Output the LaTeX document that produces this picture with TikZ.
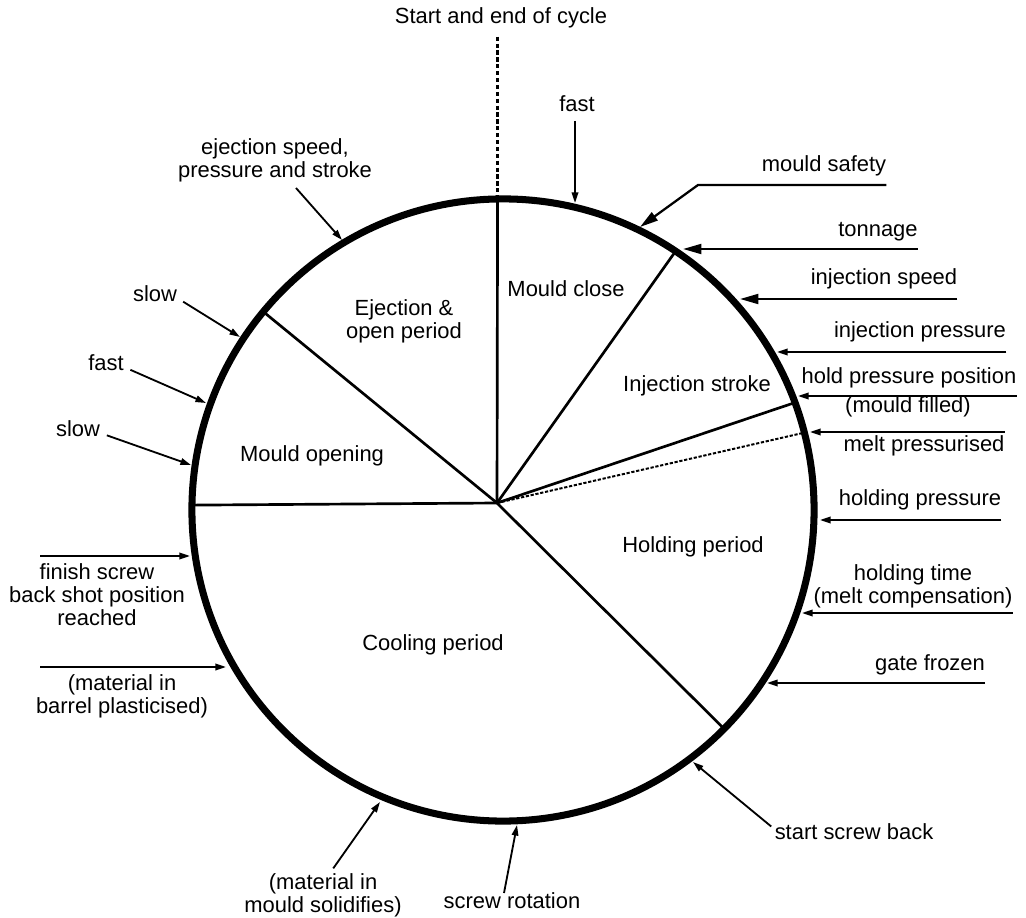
\documentclass[tikz,border=0pt]{standalone}
\usepackage{fontspec}
\setmainfont{Liberation Sans}
\usetikzlibrary{arrows.meta,positioning,calc}

\begin{document}
\begin{tikzpicture}[x=0.025cm,y=-0.025cm,font=\fontsize{15.6}{16.4}\selectfont,
  lab/.style={inner sep=0pt,align=center,text height=0.72em,text depth=0.21em},
  labm/.style={inner sep=0pt,align=center},
  arr/.style={line width=1.3pt,-{Triangle[length=7.5pt,width=4.6pt]}},
  bigarr/.style={line width=1.6pt,-{Triangle[length=13pt,width=7pt]}},
  spoke/.style={line width=1.9pt}]
\useasboundingbox (0,0) rectangle (1026,918);
% wheel
\coordinate (O) at (503,510);
\coordinate (hub) at (497,503);
\foreach \a in {-91,-56.3,-20.2,44.7,-179.1,-140.4}
  \draw[spoke] (hub) -- ($(O)+(\a:311)$);
\draw[line width=1.4pt,dash pattern=on 2.3pt off 1.2pt] (hub) -- ($(O)+(-14.4:311)$);
\draw[line width=5pt] (O) circle[radius=7.775cm];
\coordinate (cTop) at ($(O)+(-91:311)$);

% periods
\node[lab] (pClose) at (566,293) {Mould close};
\node[labm] (pEject) at (404,321) {Ejection \&\\open period};
\node[lab] (pInj) at (697,388) {Injection stroke};
\node[lab] (pOpen) at (312,458) {Mould opening};
\node[lab] (pHold) at (693,549) {Holding period};
\node[lab] (pCool) at (433,647) {Cooling period};

% points on the rim
\coordinate (tFastT) at (575,203);
\coordinate (tSafety) at (640,227);
\coordinate (tTon) at (683,249);
\coordinate (tSpeed) at (740,299);
\coordinate (tPress) at (777,352);
\coordinate (tHold) at (798,396);
\coordinate (tMelt) at (810,432);
\coordinate (tHoldP) at (820,520);
\coordinate (tHoldT) at (802,613);
\coordinate (tGate) at (767,683);
\coordinate (tBack) at (693,762);
\coordinate (tRot) at (517,825);
\coordinate (tSolid) at (380,802);
\coordinate (tBarrel) at (226,667);
\coordinate (tFinish) at (190,556);
\coordinate (tSlowB) at (191,465);
\coordinate (tFastL) at (206,403);
\coordinate (tSlowA) at (240,337);
\coordinate (tEject) at (342,240);

% labels
\node[lab] (lCycle) at (501,20) {Start and end of cycle};
\node[lab] (lFastT) at (577,108) {fast};
\node[lab] (lSafety) at (824,168) {mould safety};
\node[lab] (lTon) at (878,233) {tonnage};
\node[lab] (lSpeed) at (884,281) {injection speed};
\node[lab] (lPress) at (920,334) {injection pressure};
\node[lab] (lHold) at (909,380) {hold pressure position};
\node[lab] (lFilled) at (908,409) {(mould filled)};
\node[lab] (lMelt) at (924,448) {melt pressurised};
\node[lab] (lHoldP) at (920,502) {holding pressure};
\node[labm] (lHoldT) at (913,586) {holding time\\(melt compensation)};
\node[lab] (lGate) at (930,667) {gate frozen};
\node[lab] (lBack) at (854,836) {start screw back};
\node[lab] (lRot) at (512,905) {screw rotation};
\node[labm] (lSolid) at (323,895) {(material in\\mould solidifies)};
\node[labm] (lBarrel) at (122,696) {(material in\\barrel plasticised)};
\node[labm] (lFinish) at (97,595) {finish screw\\back shot position\\reached};
\node[lab] (lSlowA) at (155,298) {slow};
\node[lab] (lFastL) at (106,367) {fast};
\node[lab] (lSlowB) at (78,433) {slow};
\node[labm] (lEject) at (275,160) {ejection speed,\\pressure and stroke};

% connectors
\draw[line width=2.6pt,dash pattern=on 3pt off 1.9pt,shorten <=7pt] (cTop |- lCycle.south) -- (cTop);
\draw[arr] (lFastT.south -| tFastT) ++(0,6) -- (tFastT);
\coordinate (kSafety) at (698,185);
\draw[bigarr] (lSafety.east |- kSafety) -- (kSafety) -- (tSafety);
\draw[bigarr] (lTon.east |- tTon) -- (tTon);
\draw[bigarr] (lSpeed.east |- tSpeed) -- (tSpeed);
\draw[arr] (lPress.east |- tPress) -- (tPress);
\draw[arr] (lHold.east |- tHold) -- (tHold);
\draw[arr] (lMelt.east |- tMelt) -- (tMelt);
\draw[arr] (lHoldP.east |- tHoldP) -- (tHoldP);
\draw[arr] (lHoldT.east |- tHoldT) -- (tHoldT);
\draw[arr] (lGate.east |- tGate) -- (tGate);
\draw[arr,shorten <=3pt] (lBack.north west) -- (tBack);
\coordinate (sRot) at (504,893);
\draw[arr] (sRot) -- (tRot);
\draw[arr,shorten <=4pt] (lSolid.north) ++(7,0) -- (tSolid);
\coordinate (sBarrel) at (40,667);
\draw[arr] (sBarrel) -- (tBarrel);
\coordinate (sFinish) at (40,556);
\draw[arr] (sFinish) -- (tFinish);
\draw[arr,shorten <=5pt] (lSlowB.east) -- (tSlowB);
\draw[arr,shorten <=5pt] (lFastL.east) -- (tFastL);
\draw[arr,shorten <=5pt] (lSlowA.east) -- (tSlowA);
\coordinate (sEject) at (296,188);
\draw[arr] (sEject) -- (tEject);
\end{tikzpicture}
\end{document}
